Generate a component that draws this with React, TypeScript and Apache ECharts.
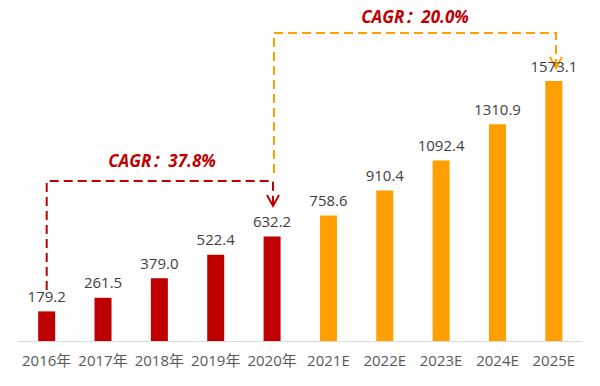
import React, { useEffect, useRef } from "react";
import * as echarts from "echarts";

const categories = ["2016年", "2017年", "2018年", "2019年", "2020年", "2021E", "2022E", "2023E", "2024E", "2025E"];
const values = [179.2, 261.5, 379.0, 522.4, 632.2, 758.6, 910.4, 1092.4, 1310.9, 1573.1];
const forecastStart = 5;
const cagrTexts = ["CAGR：37.8%", "CAGR：20.0%"];

const RED = "#C00000";
const ORANGE = "#FFA000";
const FONT = "'Open Sans', 'Noto Sans CJK SC', sans-serif";

export default function App() {
  const ref = useRef<HTMLDivElement>(null);
  useEffect(() => {
    if (!ref.current) return;
    const chart = echarts.init(ref.current, null, { renderer: "svg" });
    const dash = [9, 5];
    chart.setOption({
      animation: false,
      grid: { left: 18.5, right: 18, top: 43.5, bottom: 45, containLabel: false },
      xAxis: {
        type: "category",
        data: categories,
        axisLine: { lineStyle: { color: "#D9D9D9", width: 1 } },
        axisTick: { show: false },
        axisLabel: { interval: 0, color: "#595959", fontSize: 15, fontFamily: FONT, margin: 11 },
      },
      yAxis: { type: "value", min: 0, max: 1800, show: false, splitLine: { show: false } },
      series: [
        {
          type: "bar",
          barWidth: 17,
          data: values.map((v, i) => ({ value: v, itemStyle: { color: i < forecastStart ? RED : ORANGE } })),
          label: {
            show: true,
            position: "top",
            distance: 8,
            color: "#404040",
            fontSize: 15,
            fontFamily: FONT,
            formatter: (p: any) => p.value.toFixed(1),
          },
        },
      ],
      graphic: [
        {
          type: "polyline",
          shape: { points: [[46.7, 290], [46.7, 181], [273, 181], [273, 206]] },
          style: { stroke: RED, lineWidth: 2, lineDash: dash, fill: null },
        },
        {
          type: "polyline",
          shape: { points: [[267, 195], [273, 206], [279, 195]] },
          style: { stroke: RED, lineWidth: 2, fill: null },
        },
        {
          type: "text",
          x: 162,
          y: 160,
          style: {
            text: cagrTexts[0],
            fill: RED,
            font: "italic bold 17px " + FONT,
            align: "center",
            verticalAlign: "middle",
          },
        },
        {
          type: "polyline",
          shape: { points: [[274, 173], [274, 33], [556, 33], [556, 68]] },
          style: { stroke: ORANGE, lineWidth: 2, lineDash: dash, fill: null },
        },
        {
          type: "polyline",
          shape: { points: [[550, 57], [556, 68], [562, 57]] },
          style: { stroke: ORANGE, lineWidth: 2, fill: null },
        },
        {
          type: "text",
          x: 415,
          y: 16,
          style: {
            text: cagrTexts[1],
            fill: RED,
            font: "italic bold 17px " + FONT,
            align: "center",
            verticalAlign: "middle",
          },
        },
      ],
    });
    return () => chart.dispose();
  }, []);
  return <div ref={ref} style={{ width: 600, height: 386, position: "absolute", left: 0, top: 0 }} />;
}
